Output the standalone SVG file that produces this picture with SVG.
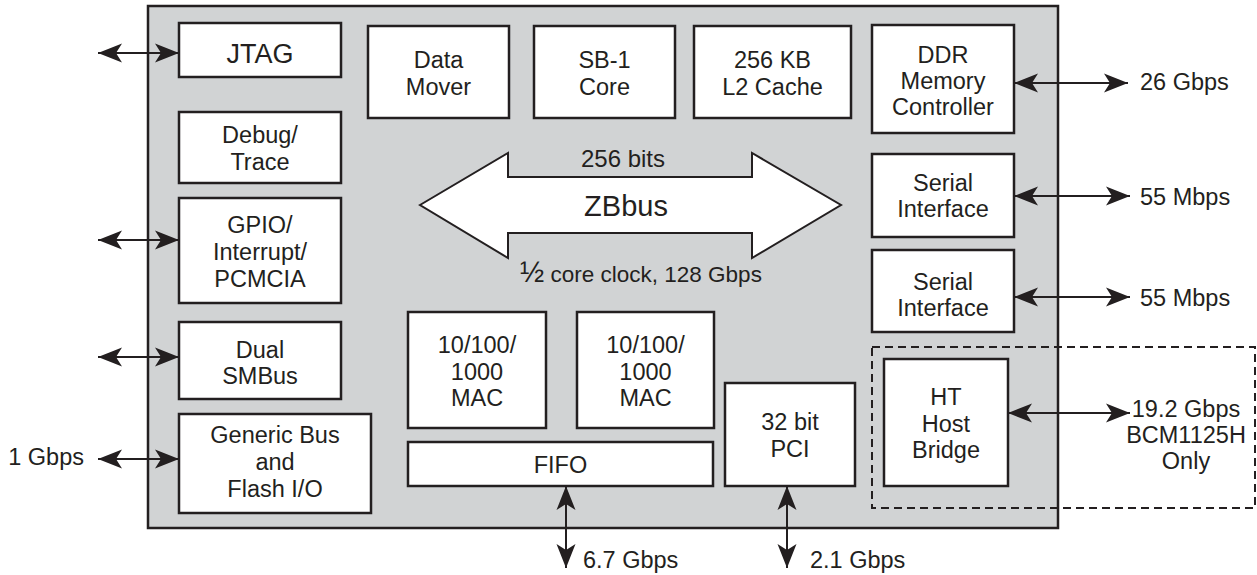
<svg xmlns="http://www.w3.org/2000/svg" width="1257" height="575" viewBox="0 0 1257 575">
<style>
text{font-family:"Liberation Sans",Arial,sans-serif;font-size:23.5px;fill:#231f20}
.c{text-anchor:middle}
.box{fill:#fff;stroke:#231f20;stroke-width:2.5}
.con{stroke:#231f20;stroke-width:2;fill:none;marker-start:url(#ah);marker-end:url(#ah)}
</style>
<defs>
<marker id="ah" markerUnits="userSpaceOnUse" viewBox="0 0 24 20" refX="24" refY="10" markerWidth="24" markerHeight="20" orient="auto-start-reverse">
<path d="M0,0.5 L24,10 L0,19.5 L6,10 Z" fill="#231f20"/>
</marker>
</defs>
<rect id="chip" x="148" y="6" width="910" height="522" fill="#d1d3d4" stroke="#231f20" stroke-width="2.5"/>
<rect id="bcm1125h-region" x="872" y="347" width="383" height="161" fill="none" stroke="#231f20" stroke-width="2" stroke-dasharray="8,5"/>
<g id="zbbus">
<polygon points="420,205 508,153 508,177 752,177 752,153 841,205 752,258 752,233 508,233 508,258" fill="#fff" stroke="#231f20" stroke-width="2"/>
<text class="c" x="623" y="167" style="font-size:24px">256 bits</text>
<text class="c" x="626" y="216" style="font-size:29px">ZBbus</text>
<text class="c" x="641" y="282" style="font-size:22.5px"><tspan style="font-size:29px">½</tspan> core clock, 128 Gbps</text>
</g>
<g id="jtag"><rect class="box" x="179" y="23" width="162" height="54"/><text class="c" x="260" y="63" style="font-size:27px">JTAG</text></g>
<g id="data-mover"><rect class="box" x="368" y="26" width="141" height="92"/><text class="c" x="438.5" y="68">Data</text><text class="c" x="438.5" y="95">Mover</text></g>
<g id="sb1-core"><rect class="box" x="534" y="26" width="141" height="92"/><text class="c" x="604.5" y="68">SB-1</text><text class="c" x="604.5" y="95">Core</text></g>
<g id="l2-cache"><rect class="box" x="694" y="26" width="157" height="92"/><text class="c" x="772.5" y="68">256 KB</text><text class="c" x="772.5" y="95">L2 Cache</text></g>
<g id="ddr"><rect class="box" x="872" y="25" width="142" height="108"/><text class="c" x="943" y="63">DDR</text><text class="c" x="943" y="89">Memory</text><text class="c" x="943" y="115">Controller</text></g>
<g id="debug"><rect class="box" x="179" y="112" width="162" height="71"/><text class="c" x="260" y="143">Debug/</text><text class="c" x="260" y="170">Trace</text></g>
<g id="gpio"><rect class="box" x="179" y="198" width="162" height="105"/><text class="c" x="260" y="233">GPIO/</text><text class="c" x="260" y="260">Interrupt/</text><text class="c" x="260" y="287">PCMCIA</text></g>
<g id="smbus"><rect class="box" x="179" y="322" width="162" height="77"/><text class="c" x="260" y="358">Dual</text><text class="c" x="260" y="384">SMBus</text></g>
<g id="generic-bus"><rect class="box" x="179" y="414" width="192" height="99"/><text class="c" x="275" y="443">Generic Bus</text><text class="c" x="275" y="470">and</text><text class="c" x="275" y="497">Flash I/O</text></g>
<g id="mac1"><rect class="box" x="408" y="312" width="138" height="116"/><text class="c" x="477" y="353">10/100/</text><text class="c" x="477" y="380">1000</text><text class="c" x="477" y="406">MAC</text></g>
<g id="mac2"><rect class="box" x="577" y="312" width="137" height="116"/><text class="c" x="645.5" y="353">10/100/</text><text class="c" x="645.5" y="380">1000</text><text class="c" x="645.5" y="406">MAC</text></g>
<g id="fifo"><rect class="box" x="408" y="442" width="305" height="44"/><text class="c" x="560.5" y="473">FIFO</text></g>
<g id="pci"><rect class="box" x="725" y="383" width="130" height="103"/><text class="c" x="790" y="430">32 bit</text><text class="c" x="790" y="457">PCI</text></g>
<g id="serial1"><rect class="box" x="872" y="154" width="142" height="83"/><text class="c" x="943" y="191">Serial</text><text class="c" x="943" y="217">Interface</text></g>
<g id="serial2"><rect class="box" x="872" y="250" width="142" height="82"/><text class="c" x="943" y="290">Serial</text><text class="c" x="943" y="316">Interface</text></g>
<g id="ht-bridge"><rect class="box" x="884" y="359" width="124" height="127"/><text class="c" x="946" y="405">HT</text><text class="c" x="946" y="432">Host</text><text class="c" x="946" y="458">Bridge</text></g>
<g id="connectors">
<line class="con" x1="98" y1="53" x2="179" y2="53"/>
<line class="con" x1="98" y1="240" x2="179" y2="240"/>
<line class="con" x1="98" y1="357" x2="179" y2="357"/>
<line class="con" x1="98" y1="459" x2="179" y2="459"/>
<line class="con" x1="1014" y1="83" x2="1128" y2="83"/>
<line class="con" x1="1014" y1="196" x2="1130" y2="196"/>
<line class="con" x1="1014" y1="297" x2="1130" y2="297"/>
<line class="con" x1="1008" y1="413" x2="1130" y2="413"/>
<line class="con" x1="566" y1="486" x2="566" y2="568"/>
<line class="con" x1="787" y1="486" x2="787" y2="568"/>
</g>
<g id="labels">
<text x="1140" y="90">26 Gbps</text>
<text x="1140" y="205">55 Mbps</text>
<text x="1140" y="306">55 Mbps</text>
<text class="c" x="1186" y="417">19.2 Gbps</text>
<text class="c" x="1186" y="443">BCM1125H</text>
<text class="c" x="1186" y="469">Only</text>
<text x="84" y="465" style="text-anchor:end">1 Gbps</text>
<text x="583" y="568">6.7 Gbps</text>
<text x="810" y="568">2.1 Gbps</text>
</g>
</svg>
